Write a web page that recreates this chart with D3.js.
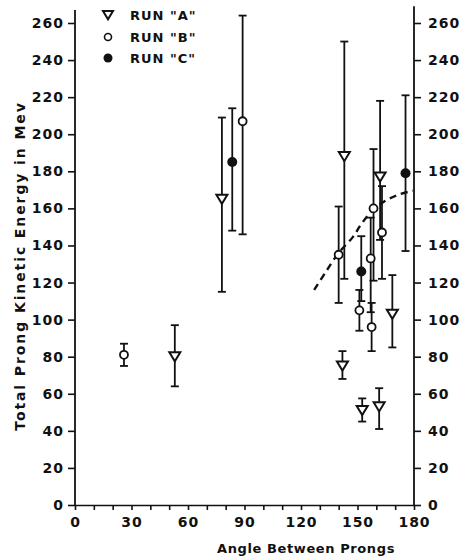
<!DOCTYPE html>
<html>
<head>
<meta charset="utf-8">
<script src="https://cdn.jsdelivr.net/npm/d3@7"></script>
<style>
  html,body{margin:0;padding:0;background:#fff;}
  svg text{font-family:"DejaVu Sans",sans-serif;font-weight:bold;fill:#111;}
  .axis text{font-size:14px;letter-spacing:1px;}
  .axis line,.axis path{stroke:#111;stroke-width:1.6;}
</style>
</head>
<body>
<svg id="chart" width="468" height="559"></svg>
<script>
/* ===== Data ===== */
// RUN "A" - open down triangles
const runA_angle  = [53, 78, 143, 142, 152.5, 161.5, 162, 168.5];
const runA_energy = [80, 165, 188, 75, 51, 53, 177, 103];
const runA_low    = [64, 115, 122, 68, 45, 41, 143, 85];
const runA_high   = [97, 209, 250, 83, 57.5, 63, 218, 124];

// RUN "B" - open circles
const runB_angle  = [26, 89, 140, 151, 157, 158.5, 157.5, 163];
const runB_energy = [81, 207, 135, 105, 133, 160, 96, 147];
const runB_low    = [75, 146, 109, 94, 104, 121, 83, 122];
const runB_high   = [87, 264, 161, 116, 155, 192, 109, 172];

// RUN "C" - filled circles
const runC_angle  = [83.5, 152, 175.5];
const runC_energy = [185, 126, 179];
const runC_low    = [148, 110, 137];
const runC_high   = [214, 145, 221];

// dashed curve
const curve_angle  = [127, 133, 140, 147.5, 152, 158.5, 165.5, 172, 179.5];
const curve_energy = [116, 125.5, 136, 144.5, 151.5, 159.5, 164.5, 167.5, 169.5];

const xTicks = [0,10,20,30,40,50,60,70,80,90,100,110,120,130,140,150,160,170,180];
const yTicks = [0,20,40,60,80,100,120,140,160,180,200,220,240,260];

const legendLabels = ['RUN "A"', 'RUN "B"', 'RUN "C"'];

/* ===== Scales ===== */
const svg = d3.select('#chart');
const x = d3.scaleLinear().domain([0,180]).range([75,414]);
const y = d3.scaleLinear().domain([0,260]).range([505,23]);
const ink = '#111';

/* ===== Axes ===== */
svg.append('g').attr('class','axis').attr('transform',`translate(0,${y(0)})`)
  .call(d3.axisBottom(x).tickValues(xTicks).tickSize(5).tickSizeOuter(0).tickPadding(7)
    .tickFormat(d => d%30===0 ? d : ''));

svg.append('g').attr('class','axis').attr('transform',`translate(${x(0)},0)`)
  .call(d3.axisLeft(y).tickValues(yTicks).tickSize(7).tickSizeOuter(0).tickPadding(4))
  .call(g => g.select('.domain').remove());

svg.append('g').attr('class','axis').attr('transform',`translate(${x(180)},0)`)
  .call(d3.axisRight(y).tickValues(yTicks).tickSize(7).tickSizeOuter(0).tickPadding(7))
  .call(g => g.select('.domain').remove());

// axis lines run a bit above the top tick
svg.append('line').attr('x1',x(0)).attr('x2',x(0)).attr('y1',y(0)).attr('y2',y(267))
  .attr('stroke',ink).attr('stroke-width',1.8);
svg.append('line').attr('x1',x(180)).attr('x2',x(180)).attr('y1',y(0)).attr('y2',y(269))
  .attr('stroke',ink).attr('stroke-width',1.8);

svg.append('text').attr('x',306).attr('y',553).attr('text-anchor','middle')
  .style('font-size','13px').style('letter-spacing','0.6px').text('Angle Between Prongs');

svg.append('text').attr('transform','translate(25,266) rotate(-90)').attr('text-anchor','middle')
  .style('font-size','14px').style('letter-spacing','1.9px').text('Total Prong Kinetic Energy  in Mev');

/* ===== Dashed curve ===== */
const line = d3.line().x((d,i)=>x(curve_angle[i])).y(d=>y(d)).curve(d3.curveCatmullRom);
svg.append('path').attr('d', line(curve_energy)).attr('fill','none')
  .attr('stroke',ink).attr('stroke-width',2.4).attr('stroke-dasharray','7,5');

/* ===== Error bars ===== */
function errBars(ang, low, high){
  const g = svg.append('g').attr('stroke',ink).attr('stroke-width',1.8);
  ang.forEach((a,i)=>{
    g.append('line').attr('x1',x(a)).attr('x2',x(a)).attr('y1',y(low[i])).attr('y2',y(high[i]));
    g.append('line').attr('x1',x(a)-4).attr('x2',x(a)+4).attr('y1',y(low[i])).attr('y2',y(low[i]));
    g.append('line').attr('x1',x(a)-4).attr('x2',x(a)+4).attr('y1',y(high[i])).attr('y2',y(high[i]));
  });
}
errBars(runA_angle, runA_low, runA_high);
errBars(runB_angle, runB_low, runB_high);
errBars(runC_angle, runC_low, runC_high);

/* ===== Markers ===== */
function tri(cx, cy, s){ return `M${cx-s},${cy-s*0.8}L${cx+s},${cy-s*0.8}L${cx},${cy+s*0.85}Z`; }

svg.append('g').selectAll('path').data(runA_energy).enter().append('path')
  .attr('d',(d,i)=>tri(x(runA_angle[i]), y(d), 5.5))
  .attr('fill','#fff').attr('stroke',ink).attr('stroke-width',2);

svg.append('g').selectAll('circle').data(runB_energy).enter().append('circle')
  .attr('cx',(d,i)=>x(runB_angle[i])).attr('cy',d=>y(d)).attr('r',4)
  .attr('fill','#fff').attr('stroke',ink).attr('stroke-width',1.8);

svg.append('g').selectAll('circle').data(runC_energy).enter().append('circle')
  .attr('cx',(d,i)=>x(runC_angle[i])).attr('cy',d=>y(d)).attr('r',5)
  .attr('fill',ink);

/* ===== Legend ===== */
const lg = svg.append('g');
lg.append('path').attr('d',tri(108,15,5)).attr('fill','#fff').attr('stroke',ink).attr('stroke-width',2);
lg.append('circle').attr('cx',108).attr('cy',37).attr('r',3.5).attr('fill','#fff').attr('stroke',ink).attr('stroke-width',1.6);
lg.append('circle').attr('cx',108).attr('cy',58).attr('r',4.5).attr('fill',ink);
legendLabels.forEach((t,i)=>{
  lg.append('text').attr('x',130).attr('y',[15,37,58][i]).attr('dy','0.36em')
    .style('font-size','13px').style('letter-spacing','1px').text(t);
});
</script>
</body>
</html>
